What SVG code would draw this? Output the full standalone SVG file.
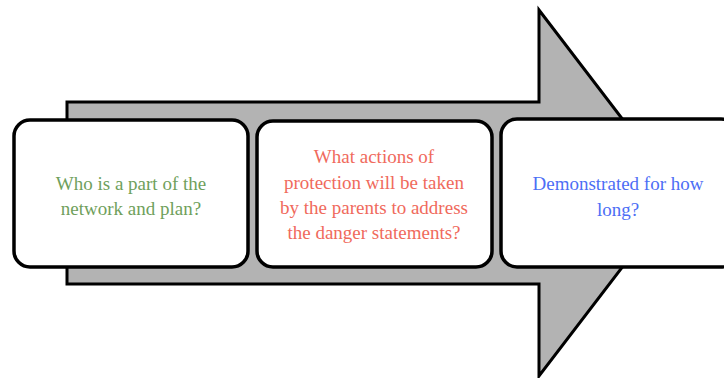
<svg xmlns="http://www.w3.org/2000/svg" width="724" height="378" viewBox="0 0 724 378">
<style>
.arrow{fill:#b3b3b3;stroke:#000;stroke-width:3;stroke-linejoin:miter}
.box{fill:#fff;stroke:#000;stroke-width:3.5}
text{font-family:"Liberation Serif","DejaVu Serif",serif;font-size:19px;text-anchor:middle}
.g{fill:#6f9f5c}
.r{fill:#f06a5c}
.b{fill:#4d6ef5}
</style>
<rect width="724" height="378" fill="#fff"/>
<g id="connectors">
<polygon class="arrow" points="67,102 539,102 539,10 679,193 539,376 539,284 67,284"/>
</g>
<g id="node1">
<rect class="box" x="14" y="120" width="234" height="147" rx="16"/>
<text class="g" x="131" y="190">Who is a part of the</text>
<text class="g" x="131" y="215">network and plan?</text>
</g>
<g id="node2">
<rect class="box" x="257" y="121" width="235" height="146" rx="16"/>
<text class="r" x="374" y="163">What actions of</text>
<text class="r" x="374" y="189">protection will be taken</text>
<text class="r" x="374" y="214">by the parents to address</text>
<text class="r" x="374" y="239">the danger statements?</text>
</g>
<g id="node3">
<rect class="box" x="501" y="119" width="236" height="148" rx="16"/>
<text class="b" x="618" y="190">Demonstrated for how</text>
<text class="b" x="618" y="216">long?</text>
</g>
</svg>
